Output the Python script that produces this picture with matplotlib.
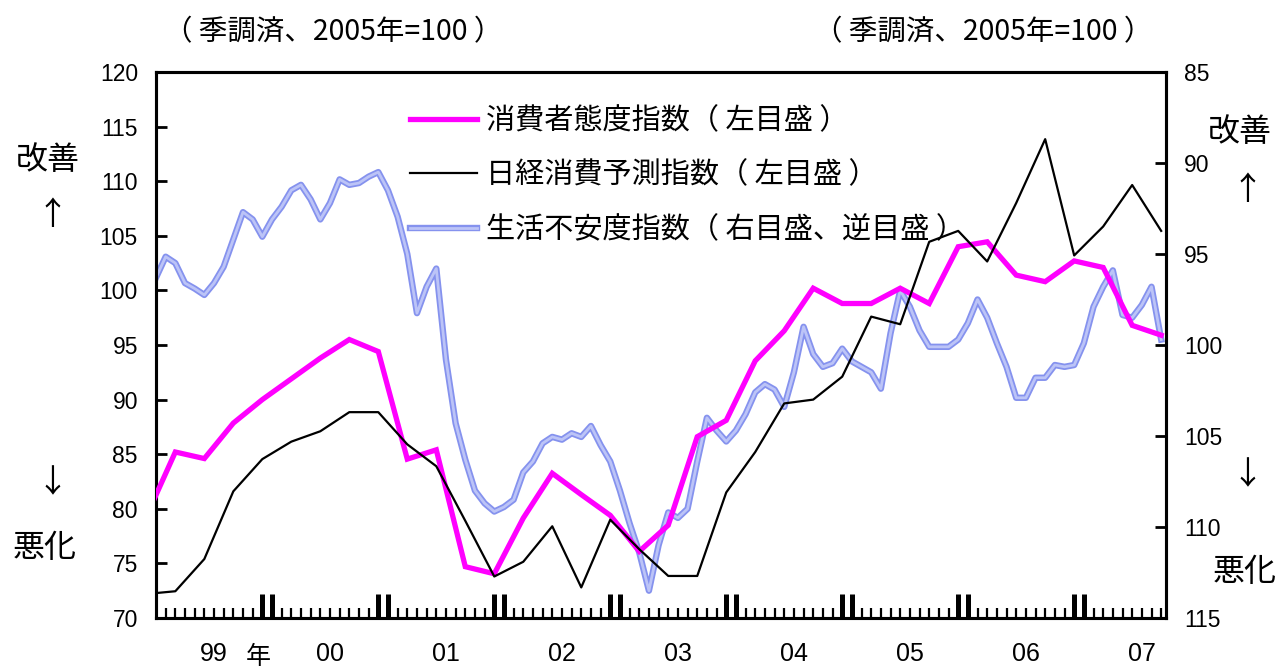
import matplotlib
matplotlib.use('Agg')
import matplotlib.pyplot as plt
from matplotlib.lines import Line2D
from matplotlib.legend_handler import HandlerTuple
from matplotlib.transforms import blended_transform_factory

JP = ['Noto Sans CJK JP', 'DejaVu Sans']
NUM = ['Liberation Sans', 'DejaVu Sans']

# ---------------- data (month index: 0 = Jan 1999) ----------------
year_labels = ['99', '00', '01', '02', '03', '04', '05', '06', '07']

# quarterly surveys: Dec 1998, then Mar 1999 ... Sep 2007
quarter_months = [-1] + list(range(2, 105, 3))
consumer_confidence = [79.3,
    85.2, 84.6, 87.85, 90.0, 91.9, 93.8, 95.5, 94.4,
    84.55, 85.4, 74.7, 74.05, 79.15, 83.25, 81.3, 79.4,
    76.1, 78.5, 86.6, 88.1, 93.55, 96.3, 100.2, 98.8,
    98.8, 100.2, 98.8, 104.0, 104.45, 101.4, 100.8, 102.7,
    102.1, 96.8, 95.9]
nikkei_forecast = [72.2,
    72.45, 75.4, 81.6, 84.55, 86.15, 87.1, 88.85, 88.85,
    85.9, 83.9, 78.9, 73.8, 75.15, 78.4, 72.8, 79.0,
    76.3, 73.85, 73.85, 81.5, 85.2, 89.65, 90.0, 92.1,
    97.6, 96.9, 104.45, 105.45, 102.65, 108.0, 113.85, 103.2,
    105.85, 109.65, 105.45]

# monthly: Jan 1999 ... Sep 2007
monthly_months = list(range(0, 105))
anxiety_index = [
    96.3, 95.15, 95.5, 96.6, 96.9, 97.25, 96.6, 95.7, 94.2, 92.7, 93.1, 94.05,
    93.1, 92.4, 91.5, 91.2, 92.0, 93.1, 92.2, 90.9, 91.2, 91.1, 90.75, 90.5,
    91.5, 92.95, 95.0, 98.25, 96.8, 95.8, 100.8, 104.3, 106.3, 108.0, 108.7, 109.15,
    108.9, 108.5, 107.0, 106.4, 105.4, 105.05, 105.2, 104.85, 105.05, 104.45, 105.5, 106.4,
    108.0, 109.8, 111.4, 113.5, 111.0, 109.2, 109.5, 109.0, 106.4, 104.0, 104.7, 105.3,
    104.7, 103.8, 102.6, 102.15, 102.45, 103.4, 101.5, 99.0, 100.5, 101.2, 101.0, 100.2,
    100.9, 101.2, 101.5, 102.4, 99.35, 97.0, 97.9, 99.2, 100.1, 100.1, 100.1, 99.7,
    98.8, 97.5, 98.5, 99.9, 101.2, 102.9, 102.9, 101.8, 101.8, 101.1, 101.2, 101.1,
    99.9, 97.9, 96.8, 95.9, 98.35, 98.5, 97.8, 96.8, 99.7]

left_ticks = [70, 75, 80, 85, 90, 95, 100, 105, 110, 115, 120]
right_ticks = [85, 90, 95, 100, 105, 110, 115]

labels = ['消費者態度指数（ 左目盛 ）', '日経消費予測指数（ 左目盛 ）', '生活不安度指数（ 右目盛、逆目盛 ）']
header = '（ 季調済、2005年=100 ）'

# ---------------- figure ----------------
fig = plt.figure(figsize=(12.8, 6.68), dpi=100)
ax = fig.add_axes([156 / 1280, 50 / 668, 1010 / 1280, 546 / 668])
ax2 = ax.twinx()

MAG = '#ff00ff'
BLUE_EDGE = '#8592ee'
BLUE_IN = '#bcc4f7'

ax.set_zorder(2)
ax.patch.set_visible(False)

ax2.plot(monthly_months, anxiety_index, color=BLUE_EDGE, lw=4.6, solid_joinstyle='round', zorder=2)
ax2.plot(monthly_months, anxiety_index, color=BLUE_IN, lw=2.0, solid_joinstyle='round', zorder=3)
ax.plot(quarter_months, consumer_confidence, color=MAG, lw=3.8, solid_joinstyle='miter', zorder=4)
ax.plot(quarter_months, nikkei_forecast, color='black', lw=1.6, zorder=5)

ax.set_xlim(0, 104.5)
ax.set_ylim(70, 120)
ax2.set_ylim(115, 85)

ax.set_yticks(left_ticks)
ax.set_yticklabels([str(t) for t in left_ticks], fontfamily=NUM, fontsize=16.5)
ax2.set_yticks(right_ticks)
ax2.set_yticklabels([str(t) for t in right_ticks], fontfamily=NUM, fontsize=16.5)
ax.tick_params(axis='y', direction='in', length=8, width=2, pad=13)
ax2.tick_params(axis='y', direction='in', length=8, width=2, pad=13)

# x ticks: monthly minor, thick pairs at year boundaries
ax.set_xticks([m for m in range(1, 105) if m % 12 not in (0, 11)], minor=True)
ax.set_xticks([m for m in range(1, 105) if m % 12 in (0, 11)])
ax.set_xticklabels([])
ax.tick_params(axis='x', which='minor', direction='in', length=7, width=1.6)
ax.tick_params(axis='x', which='major', direction='in', length=17, width=3.6)

for s in ['left', 'right', 'top', 'bottom']:
    ax.spines[s].set_linewidth(2.2)
    ax2.spines[s].set_linewidth(2.2)

trans = blended_transform_factory(ax.transData, fig.transFigure)
for i, yl in enumerate(year_labels):
    ax.text(6 + 12 * i, (668 - 654) / 668, yl, transform=trans, ha='center', va='center',
            fontsize=18, fontfamily=NUM)
ax.text(10.6, (668 - 657) / 668, '年', transform=trans, ha='center', va='center',
        fontsize=18, fontfamily=JP)

# headers
fig.text(333 / 1280, (668 - 32) / 668, header, ha='center', va='center', fontsize=20.5, fontfamily=JP)
fig.text(983 / 1280, (668 - 32) / 668, header, ha='center', va='center', fontsize=20.5, fontfamily=JP)

# side annotations
for (x, y, s) in [(48, 160, '改善'), (52, 215, '↑'), (52, 483, '↓'), (45, 548, '悪化'),
                  (1240, 132, '改善'), (1247, 190, '↑'), (1247, 475, '↓'), (1245, 572, '悪化')]:
    fig.text(x / 1280, (668 - y) / 668, s, ha='center', va='center', fontsize=23, fontfamily=JP)

# legend
handles = [Line2D([], [], color=MAG, lw=3.8),
           Line2D([], [], color='black', lw=1.6),
           (Line2D([], [], color=BLUE_EDGE, lw=4.6), Line2D([], [], color=BLUE_IN, lw=2.0))]
leg = ax.legend(handles, labels, loc='upper left', bbox_to_anchor=((410 - 156) / 1010, (618 - 106) / 546),
                frameon=False, borderpad=0, borderaxespad=0, handlelength=2.3, handletextpad=0.3,
                labelspacing=0.84, prop={'family': JP, 'size': 21},
                handler_map={tuple: HandlerTuple(ndivide=1, pad=0)})

fig.savefig('out.png', dpi=100)
